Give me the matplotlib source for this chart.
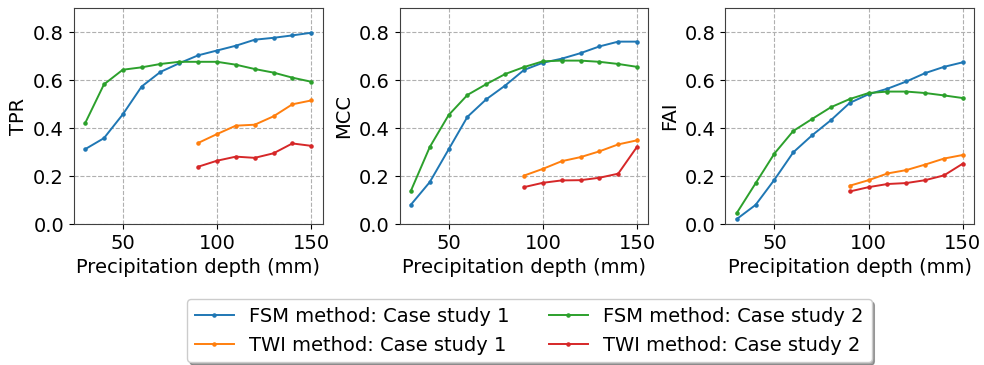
import numpy as np
import matplotlib.pyplot as plt

plt.rcParams['font.size'] = 14

depth_all = [30, 40, 50, 60, 70, 80, 90, 100, 110, 120, 130, 140, 150]
depth_twi = [90, 100, 110, 120, 130, 140, 150]

# TPR
tpr_fsm1 = [0.312, 0.358, 0.457, 0.573, 0.634, 0.670, 0.703, 0.723, 0.743, 0.768, 0.776, 0.786, 0.797]
tpr_fsm2 = [0.420, 0.582, 0.643, 0.653, 0.667, 0.676, 0.676, 0.676, 0.664, 0.646, 0.631, 0.610, 0.593]
tpr_twi1 = [0.338, 0.375, 0.410, 0.414, 0.449, 0.499, 0.515]
tpr_twi2 = [0.239, 0.264, 0.281, 0.276, 0.295, 0.336, 0.326]

# MCC
mcc_fsm1 = [0.081, 0.175, 0.311, 0.447, 0.520, 0.577, 0.642, 0.672, 0.689, 0.712, 0.740, 0.760, 0.760]
mcc_fsm2 = [0.139, 0.321, 0.454, 0.538, 0.583, 0.625, 0.654, 0.678, 0.681, 0.681, 0.676, 0.667, 0.655]
mcc_twi1 = [0.202, 0.230, 0.262, 0.279, 0.303, 0.332, 0.349]
mcc_twi2 = [0.154, 0.172, 0.182, 0.183, 0.193, 0.210, 0.322]

# FAI
fai_fsm1 = [0.021, 0.080, 0.185, 0.299, 0.370, 0.433, 0.505, 0.541, 0.564, 0.594, 0.629, 0.655, 0.674]
fai_fsm2 = [0.046, 0.170, 0.294, 0.388, 0.438, 0.487, 0.521, 0.546, 0.552, 0.552, 0.546, 0.536, 0.525]
fai_twi1 = [0.160, 0.183, 0.211, 0.225, 0.248, 0.273, 0.288]
fai_twi2 = [0.136, 0.154, 0.167, 0.171, 0.183, 0.203, 0.252]

panels = [
    ("TPR", tpr_fsm1, tpr_twi1, tpr_fsm2, tpr_twi2),
    ("MCC", mcc_fsm1, mcc_twi1, mcc_fsm2, mcc_twi2),
    ("FAI", fai_fsm1, fai_twi1, fai_fsm2, fai_twi2),
]

fig, axes = plt.subplots(1, 3, figsize=(9.84, 3.65), dpi=100)
plt.subplots_adjust(left=0.075, right=0.99, top=0.978, bottom=0.386, wspace=0.31)

for ax, (name, f1, t1, f2, t2) in zip(axes, panels):
    ax.plot(depth_all, f1, '.-', color='tab:blue', markersize=4.5, lw=1.4, label='FSM method: Case study 1')
    ax.plot(depth_twi, t1, '.-', color='tab:orange', markersize=4.5, lw=1.4, label='TWI method: Case study 1')
    ax.plot(depth_all, f2, '.-', color='tab:green', markersize=4.5, lw=1.4, label='FSM method: Case study 2')
    ax.plot(depth_twi, t2, '.-', color='tab:red', markersize=4.5, lw=1.4, label='TWI method: Case study 2')
    ax.set_ylim(0, 0.9)
    ax.set_yticks([0.0, 0.2, 0.4, 0.6, 0.8])
    ax.set_xlabel("Precipitation depth (mm)")
    ax.set_ylabel(name)
    ax.grid(True, linestyle='--', color='#b0b0b0', linewidth=0.8)
    for s in ax.spines.values():
        s.set_color('#404040')

handles, labels = axes[0].get_legend_handles_labels()
fig.legend(handles, labels, loc='center', bbox_to_anchor=(0.538, 0.094),
           ncol=2, shadow=True, fontsize=14)

plt.savefig("out.png")
